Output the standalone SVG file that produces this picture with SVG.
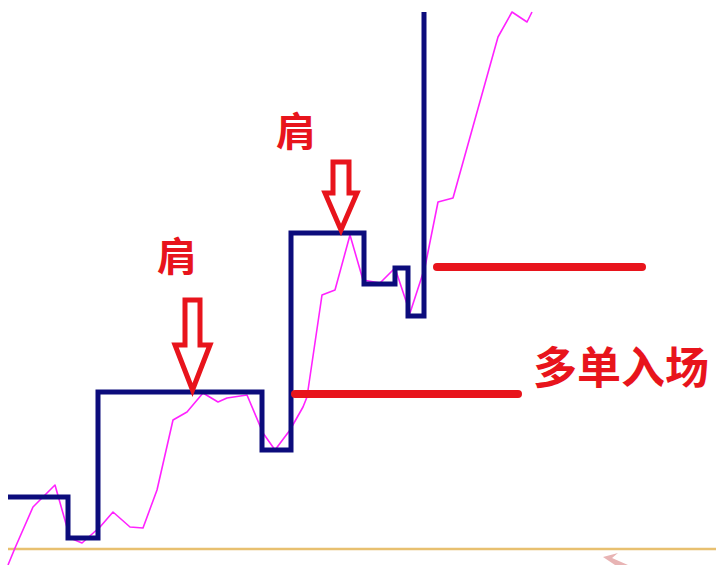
<svg xmlns="http://www.w3.org/2000/svg" width="716" height="565" viewBox="0 0 716 565">
<style>
.step{fill:none;stroke:#0c0c7c;stroke-width:5;stroke-linejoin:miter}
.price{fill:none;stroke:#ff22ff;stroke-width:1.6;stroke-linejoin:round}
.level{stroke:#e8141c;stroke-width:8;stroke-linecap:round}
.arrow{fill:#ffffff;stroke:#e8141c;stroke-width:5;stroke-linejoin:miter}
.lbl{font-family:"Noto Sans CJK SC","Noto Sans",sans-serif;font-weight:bold;fill:#e8141c}
</style>
<rect width="716" height="565" fill="#ffffff"/>
<g id="baseline">
<line x1="8" y1="549" x2="716" y2="549" stroke="#e8c070" stroke-width="2.5"/>
</g>
<g id="watermark">
<polygon points="603,557 618,553 612,558 628,565 615,565" fill="#e8b4b4"/>
</g>
<g id="price-line">
<polyline class="price" points="8,565 15,548 33,507 55,485 70,538 82,543 100,527 113,512 130,527 143,528 157,490 173,420 187,412 203,393 218,402 227,398 247,395 263,433 275,450 290,430 303,407 307,397 322,295 335,290 350,235 363,280 380,283 395,268 410,313 425,267 438,202 453,198 498,37 512,12 527,22 532,12"/>
</g>
<g id="step-line">
<polyline class="step" points="8,497 68,497 68,538 98,538 98,392 262,392 262,450 291,450 291,233 364,233 364,284 395,284 395,268 408,268 408,316 424,316 424,12"/>
</g>
<g id="levels">
<line class="level" x1="437" y1="267" x2="642" y2="267"/>
<line class="level" x1="295" y1="394" x2="518" y2="394"/>
</g>
<g id="shoulder-1">
<path class="arrow" d="M185,300 L200,300 L200,345 L210,345 L192.5,390 L175,345 L185,345 Z"/>
<text class="lbl" x="177" y="271" font-size="40" text-anchor="middle">肩</text>
</g>
<g id="shoulder-2">
<path class="arrow" d="M333,162 L349,162 L349,193 L357,193 L341,230 L325,193 L333,193 Z"/>
<text class="lbl" x="296" y="146" font-size="40" text-anchor="middle">肩</text>
</g>
<g id="entry-label">
<text class="lbl" x="533" y="384" font-size="44">多单入场</text>
</g>
</svg>
